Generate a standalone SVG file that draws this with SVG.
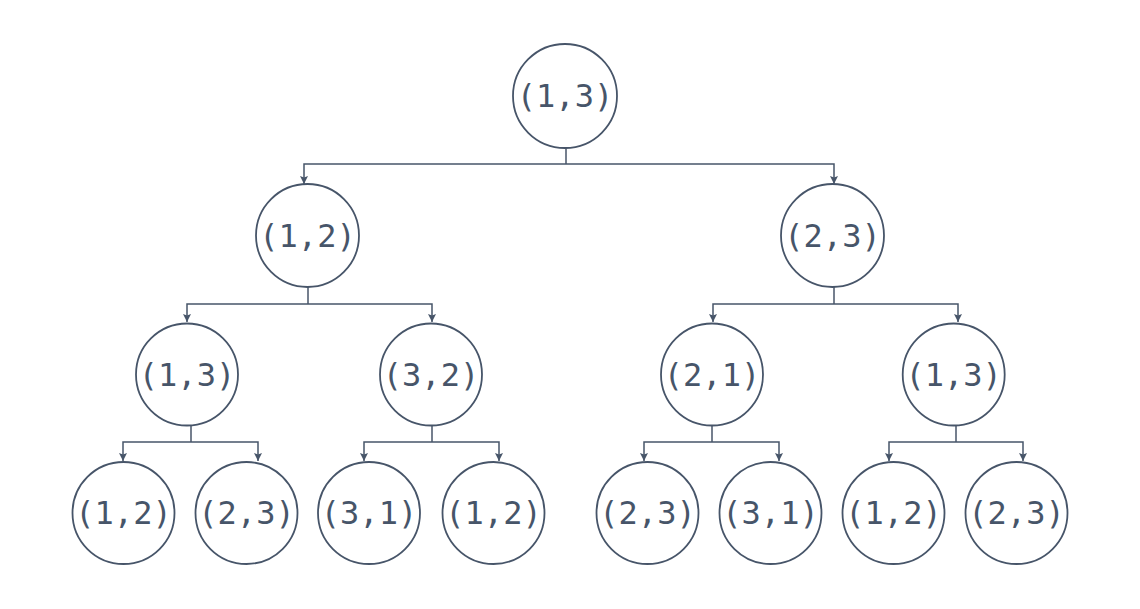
<svg xmlns="http://www.w3.org/2000/svg" width="1140" height="609" viewBox="0 0 1140 609">
<style>
.n circle{fill:#ffffff;stroke:#475569;stroke-width:1.8}
.n text{font-family:"DejaVu Sans Mono","Liberation Mono",monospace;font-size:32px;fill:#475569;text-anchor:middle;dominant-baseline:central}
.e path{fill:none;stroke:#475569;stroke-width:1.5}
</style>
<defs>
<marker id="ah" viewBox="0 0 10 10" refX="10" refY="5" markerWidth="8" markerHeight="8" markerUnits="userSpaceOnUse" orient="auto">
<path d="M0,0 L10,5 L0,10 L2,5 Z" fill="#475569"/>
</marker>
</defs>
<rect width="1140" height="609" fill="#ffffff"/>
<g id="connectors" class="e">
<path d="M566,148 V164"/>
<path d="M566,164 H304 V184" marker-end="url(#ah)"/>
<path d="M566,164 H834 V184" marker-end="url(#ah)"/>
<path d="M308,287 V304"/>
<path d="M308,304 H187 V322" marker-end="url(#ah)"/>
<path d="M308,304 H432 V322" marker-end="url(#ah)"/>
<path d="M834,287 V304"/>
<path d="M834,304 H713 V322" marker-end="url(#ah)"/>
<path d="M834,304 H958 V322" marker-end="url(#ah)"/>
<path d="M191,425 V442"/>
<path d="M191,442 H123 V461" marker-end="url(#ah)"/>
<path d="M191,442 H258 V461" marker-end="url(#ah)"/>
<path d="M432,425 V442"/>
<path d="M432,442 H364 V461" marker-end="url(#ah)"/>
<path d="M432,442 H499 V461" marker-end="url(#ah)"/>
<path d="M712,425 V442"/>
<path d="M712,442 H644 V461" marker-end="url(#ah)"/>
<path d="M712,442 H779 V461" marker-end="url(#ah)"/>
<path d="M956,425 V442"/>
<path d="M956,442 H889 V461" marker-end="url(#ah)"/>
<path d="M956,442 H1023 V461" marker-end="url(#ah)"/>
</g>
<g id="n0" class="n"><circle cx="565" cy="96" r="52"/><text x="565" y="96">(1,3)</text></g>
<g id="n1" class="n"><circle cx="307.5" cy="235.5" r="51.5"/><text x="307.5" y="235.5">(1,2)</text></g>
<g id="n2" class="n"><circle cx="832.5" cy="235.5" r="51.5"/><text x="832.5" y="235.5">(2,3)</text></g>
<g id="n3" class="n"><circle cx="187" cy="374.5" r="51"/><text x="187" y="374.5">(1,3)</text></g>
<g id="n4" class="n"><circle cx="431" cy="374.5" r="51"/><text x="431" y="374.5">(3,2)</text></g>
<g id="n5" class="n"><circle cx="712" cy="374.5" r="51"/><text x="712" y="374.5">(2,1)</text></g>
<g id="n6" class="n"><circle cx="953.7" cy="374.5" r="51"/><text x="953.7" y="374.5">(1,3)</text></g>
<g id="n7" class="n"><circle cx="123.5" cy="513" r="51"/><text x="123.5" y="513">(1,2)</text></g>
<g id="n8" class="n"><circle cx="246.5" cy="513" r="51"/><text x="246.5" y="513">(2,3)</text></g>
<g id="n9" class="n"><circle cx="369" cy="513" r="51"/><text x="369" y="513">(3,1)</text></g>
<g id="n10" class="n"><circle cx="493.5" cy="513" r="51"/><text x="493.5" y="513">(1,2)</text></g>
<g id="n11" class="n"><circle cx="647.5" cy="513" r="51"/><text x="647.5" y="513">(2,3)</text></g>
<g id="n12" class="n"><circle cx="770.5" cy="513" r="51"/><text x="770.5" y="513">(3,1)</text></g>
<g id="n13" class="n"><circle cx="893.5" cy="513" r="51"/><text x="893.5" y="513">(1,2)</text></g>
<g id="n14" class="n"><circle cx="1016.5" cy="513" r="51"/><text x="1016.5" y="513">(2,3)</text></g>
</svg>
